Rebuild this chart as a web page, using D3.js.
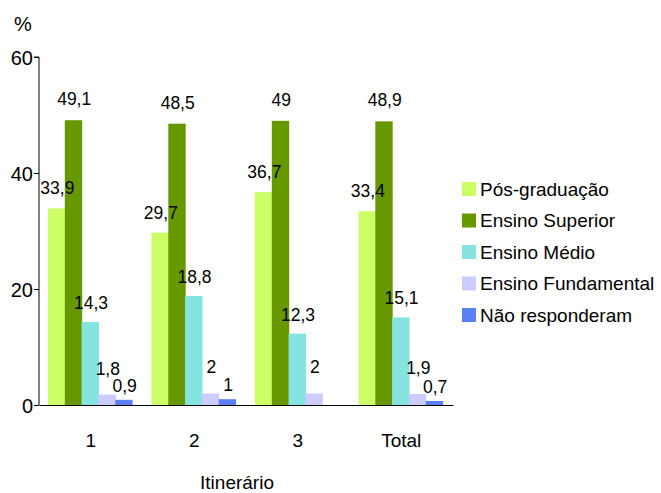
<!DOCTYPE html>
<html>
<head>
<meta charset="utf-8">
<script src="https://cdn.jsdelivr.net/npm/d3@7"></script>
<style>
  html, body { margin: 0; padding: 0; background: #fff; }
  svg { display: block; font-family: Arial, "Liberation Sans", sans-serif; }
</style>
</head>
<body>
<svg id="chart" width="661" height="493"></svg>
<script>
const categories = ["1", "2", "3", "Total"];
const seriesNames = ["Pós-graduação", "Ensino Superior", "Ensino Médio", "Ensino Fundamental", "Não responderam"];
const posGraduacao = [33.9, 29.7, 36.7, 33.4];
const ensinoSuperior = [49.1, 48.5, 49, 48.9];
const ensinoMedio = [14.3, 18.8, 12.3, 15.1];
const ensinoFundamental = [1.8, 2, 2, 1.9];
const naoResponderam = [0.9, 1, null, 0.7];
const yTicks = [0, 20, 40, 60];
const yUnit = "%";
const xTitle = "Itinerário";

const seriesValues = [posGraduacao, ensinoSuperior, ensinoMedio, ensinoFundamental, naoResponderam];
const colors = ["#CCFF66", "#669900", "#85E3E0", "#CCCCFF", "#5B80F6"];
const labelLift = [14, 15, 13, 20, 8];

const svg = d3.select("#chart");
const mLeft = 39, mRight = 453, mTop = 57, mBottom = 405;

const x = d3.scaleBand().domain(categories).range([mLeft, mRight]);
const xs = d3.scaleBand().domain(seriesNames).range([9, 9 + 84]);
const y = d3.scaleLinear().domain([0, 60]).range([mBottom, mTop]);

const fmt = v => String(v).replace(".", ",");

// bars
seriesNames.forEach((name, si) => {
  const data = categories.map((c, ci) => ({ c, v: seriesValues[si][ci] })).filter(d => d.v != null);
  const g = svg.append("g");
  g.selectAll("rect").data(data).join("rect")
    .attr("x", d => x(d.c) + xs(name))
    .attr("y", d => y(d.v))
    .attr("width", xs.bandwidth() + 0.6)
    .attr("height", d => y(0) - y(d.v))
    .attr("fill", colors[si]);
});

// labels
seriesNames.forEach((name, si) => {
  const data = categories.map((c, ci) => ({ c, v: seriesValues[si][ci] })).filter(d => d.v != null);
  svg.append("g").selectAll("text").data(data).join("text")
    .attr("x", d => x(d.c) + xs(name) + xs.bandwidth() / 2 + 1)
    .attr("y", d => y(d.v) - labelLift[si])
    .attr("text-anchor", "middle")
    .attr("font-size", 17.5)
    .attr("fill", "#000")
    .text(d => fmt(d.v));
});

// y axis
const yAxis = d3.axisLeft(y).tickValues(yTicks).tickSize(5).tickSizeOuter(5).tickFormat(d => d);
const gy = svg.append("g").attr("transform", `translate(${mLeft},0)`).call(yAxis);
gy.select(".domain").attr("stroke", "#000").attr("d", `M-5,${mTop}H0V${mBottom}`);
gy.selectAll(".tick line").attr("stroke", "#000");
gy.selectAll(".tick text").attr("font-size", 20).attr("fill", "#000").attr("x", -6).attr("dy", "0.36em")
  .style("font-family", "Arial, 'Liberation Sans', sans-serif");

// x axis
const xAxis = d3.axisBottom(x).tickSize(0).tickSizeOuter(0);
const gx = svg.append("g").attr("transform", `translate(0,${mBottom})`).call(xAxis);
gx.select(".domain").attr("stroke", "#000");
gx.selectAll(".tick text").attr("font-size", 19).attr("fill", "#000").attr("y", 0).attr("dy", 42)
  .style("font-family", "Arial, 'Liberation Sans', sans-serif");

// unit
svg.append("text").attr("x", 14).attr("y", 31).attr("font-size", 20).attr("fill", "#000").text(yUnit);

// x title
svg.append("text").attr("x", 237).attr("y", 489).attr("text-anchor", "middle")
  .attr("font-size", 19).attr("fill", "#000").text(xTitle);

// legend
const legend = svg.append("g").attr("transform", "translate(462,182)");
seriesNames.forEach((name, i) => {
  const g = legend.append("g").attr("transform", `translate(0,${i * 31.5})`);
  g.append("rect").attr("width", 14).attr("height", 14).attr("fill", colors[i]);
  g.append("text").attr("x", 18).attr("y", 13.5).attr("font-size", 19).attr("fill", "#000").text(name);
});
</script>
</body>
</html>
